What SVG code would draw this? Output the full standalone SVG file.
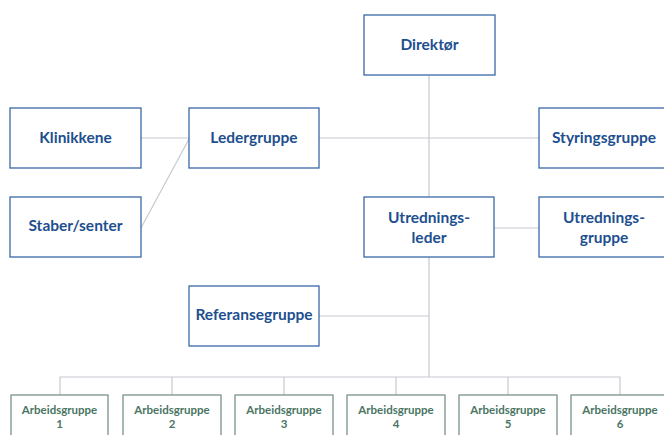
<svg xmlns="http://www.w3.org/2000/svg" width="664" height="435" viewBox="0 0 664 435">
<style>
.b{fill:#fff;stroke:#3a68a6;stroke-width:1.3}
.g{fill:#fff;stroke:#6e8a80;stroke-width:1.2}
.t{font-family:Lato,"Open Sans",sans-serif;font-weight:bold;font-size:15.5px;fill:#1d4f8f;text-anchor:middle}
.s{font-family:Lato,"Open Sans",sans-serif;font-weight:bold;font-size:11.5px;fill:#4a7562;text-anchor:middle}
.c{stroke:#c5cacf;stroke-width:1.2;fill:none}
</style>
<rect width="664" height="435" fill="#fff"/>
<g id="connectors">
<line class="c" x1="429" y1="75" x2="429" y2="377"/>
<line class="c" x1="141" y1="138" x2="189" y2="138"/>
<line class="c" x1="319" y1="138" x2="539" y2="138"/>
<line class="c" x1="141" y1="228" x2="189" y2="139"/>
<line class="c" x1="494" y1="228" x2="539" y2="228"/>
<line class="c" x1="319" y1="316" x2="429" y2="316"/>
<polyline class="c" points="60,395 60,377 620,377 620,395"/>
<line class="c" x1="172" y1="377" x2="172" y2="395"/>
<line class="c" x1="284" y1="377" x2="284" y2="395"/>
<line class="c" x1="396" y1="377" x2="396" y2="395"/>
<line class="c" x1="508" y1="377" x2="508" y2="395"/>
</g>
<g id="direktor"><rect class="b" x="364" y="15" width="131" height="60"/><text class="t" x="429.5" y="50">Direktør</text></g>
<g id="klinikkene"><rect class="b" x="10" y="108" width="131" height="60"/><text class="t" x="75.5" y="143">Klinikkene</text></g>
<g id="ledergruppe"><rect class="b" x="189" y="108" width="130" height="60"/><text class="t" x="254" y="143">Ledergruppe</text></g>
<g id="styringsgruppe"><rect class="b" x="539" y="108" width="132" height="60"/><text class="t" x="604" y="143">Styringsgruppe</text></g>
<g id="staber"><rect class="b" x="10" y="197" width="131" height="60"/><text class="t" x="75.5" y="231">Staber/senter</text></g>
<g id="utredningsleder"><rect class="b" x="364" y="197" width="130" height="60"/><text class="t" x="429" y="223">Utrednings-</text><text class="t" x="429" y="243">leder</text></g>
<g id="utredningsgruppe"><rect class="b" x="539" y="197" width="132" height="60"/><text class="t" x="604" y="223">Utrednings-</text><text class="t" x="604" y="243">gruppe</text></g>
<g id="referansegruppe"><rect class="b" x="189" y="286" width="130" height="60"/><text class="t" x="254" y="320">Referansegruppe</text></g>
<g id="ag1"><rect class="g" x="11" y="395" width="97" height="50"/><text class="s" x="59.5" y="414">Arbeidsgruppe</text><text class="s" x="59.5" y="428">1</text></g>
<g id="ag2"><rect class="g" x="123" y="395" width="98" height="50"/><text class="s" x="172" y="414">Arbeidsgruppe</text><text class="s" x="172" y="428">2</text></g>
<g id="ag3"><rect class="g" x="235" y="395" width="98" height="50"/><text class="s" x="284" y="414">Arbeidsgruppe</text><text class="s" x="284" y="428">3</text></g>
<g id="ag4"><rect class="g" x="347" y="395" width="98" height="50"/><text class="s" x="396" y="414">Arbeidsgruppe</text><text class="s" x="396" y="428">4</text></g>
<g id="ag5"><rect class="g" x="459" y="395" width="98" height="50"/><text class="s" x="508" y="414">Arbeidsgruppe</text><text class="s" x="508" y="428">5</text></g>
<g id="ag6"><rect class="g" x="571" y="395" width="98" height="50"/><text class="s" x="620" y="414">Arbeidsgruppe</text><text class="s" x="620" y="428">6</text></g>
</svg>
